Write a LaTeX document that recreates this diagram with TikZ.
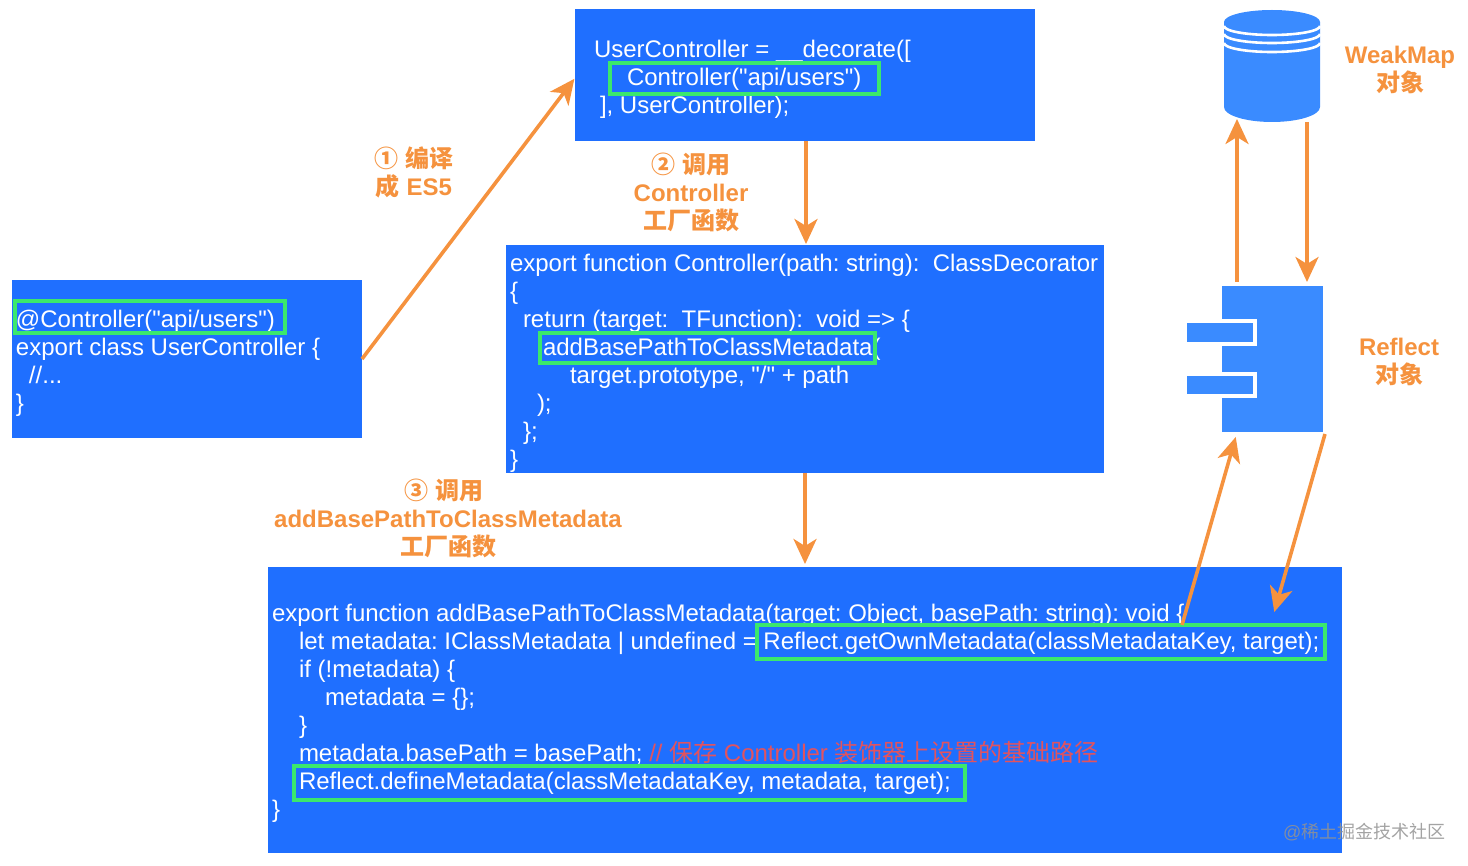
\documentclass[tikz,border=0pt]{standalone}
\usepackage{fontspec}
\setmainfont{Liberation Sans}
\newfontfamily\codefont{Liberation Sans}
\newfontfamily\cjk{Noto Sans CJK SC}
\usetikzlibrary{arrows.meta}
\definecolor{panelblue}{HTML}{1F6FFF}
\definecolor{shapeblue}{HTML}{3A8BFF}
\definecolor{hilite}{HTML}{3BE86C}
\definecolor{orangeline}{HTML}{F5923E}
\definecolor{redcomment}{HTML}{E2535F}
\newcommand{\zh}[1]{{\cjk #1}}
\newcommand{\zhb}[1]{{\cjk\bfseries #1}}
\newcommand{\ind}[1]{\hspace*{#1pt}}
\tikzset{
  x=1pt,y=-1pt,
  panel/.style={fill=panelblue,draw=none,inner sep=0pt,outer sep=0pt,anchor=north west},
  code/.style={text=white,inner sep=0pt,outer sep=0pt,anchor=north west,align=left,font=\fontsize{24}{28}\selectfont\codefont\frenchspacing},
  hibox/.style={draw=hilite,line width=3.4pt,fill=none,inner sep=0pt,outer sep=0pt,anchor=north west},
  label/.style={text=orangeline,inner sep=0pt,align=center,font=\fontsize{24}{28}\selectfont\bfseries},
  flow/.style={draw=orangeline,line width=3.6pt,-{Stealth[length=25pt,width=23pt,inset=7pt]},shorten >=1pt},
  shapefill/.style={fill=shapeblue,draw=none,inner sep=0pt,outer sep=0pt,anchor=north west},
}
\begin{document}
\begin{tikzpicture}
\useasboundingbox (0,0) rectangle (1468,866);
% panels
\node[panel,minimum width=350pt,minimum height=158pt] (left) at (12,280) {};
\node[panel,minimum width=460pt,minimum height=132pt] (top) at (575,9) {};
\node[panel,minimum width=598pt,minimum height=228pt] (mid) at (506,245) {};
\node[panel,minimum width=1074pt,minimum height=286pt] (bot) at (268,567) {};
% code
\node[code] (leftcode) at (16,308.4) {\strut @Controller("api/users")\\export class UserController \{\\\ind{13}//...\\\}};
\node[code] (topcode) at (594,38.4) {\strut UserController = \_\_decorate([\\\ind{33}Controller("api/users")\\\ind{6}], UserController);};
\node[code] (midcode) at (510,252.4) {\strut export function Controller(path: string):\ \ ClassDecorator\\\{\\\ind{13}return (target:\ \ TFunction):\ \ void => \{\\\ind{33}addBasePathToClassMetadata(\\\ind{60}target.prototype, "/" + path\\\ind{27});\\\ind{13}\};\\\}};
\node[code] (botcode) at (272,601.4) {\strut export function addBasePathToClassMetadata(target: Object, basePath: string): void \{\\\ind{27}let metadata: IClassMetadata | undefined = Reflect.getOwnMetadata(classMetadataKey, target);\\\ind{27}if (!metadata) \{\\\ind{53}metadata = \{\};\\\ind{27}\}\\\ind{27}metadata.basePath = basePath; \textcolor{redcomment}{// \zh{保存} Controller \zh{装饰器上设置的基础路径}}\\\ind{27}Reflect.defineMetadata(classMetadataKey, metadata, target);\\\}};
% highlights
\node[hibox,minimum width=270pt,minimum height=32pt] (hi1) at (15,301) {};
\node[hibox,minimum width=269pt,minimum height=31pt] (hi2) at (610,63) {};
\node[hibox,minimum width=335pt,minimum height=30pt] (hi3) at (540,333) {};
\node[hibox,minimum width=568pt,minimum height=34pt] (hi4) at (757,625) {};
\node[hibox,minimum width=671pt,minimum height=34pt] (hi5) at (294,766) {};
% WeakMap cylinder
\fill[shapeblue] (1272,22) ellipse[x radius=48,y radius=12];
\fill[shapeblue] (1224,22) -- (1224,107) arc[start angle=180,end angle=360,x radius=48,y radius=-15] -- (1320,22) -- cycle;
\foreach \yy in {26,34,43}{
  \draw[white,line width=2.6pt] (1224,\yy) arc[start angle=180,end angle=360,x radius=48,y radius=-9];
}
\coordinate (cylL) at (1237,118);
\coordinate (cylR) at (1307,122);
% Reflect component
\node[shapefill,minimum width=101pt,minimum height=146pt] (reflect) at (1222,286) {};
\fill[white] (1222,319) rectangle (1257,346);
\fill[white] (1222,372) rectangle (1257,398);
\node[shapefill,minimum width=66pt,minimum height=19pt] (tabA) at (1187,323) {};
\node[shapefill,minimum width=66pt,minimum height=18pt] (tabB) at (1187,376) {};
\coordinate (refL) at (1237,282);
\coordinate (refR) at (1307,283);
\coordinate (refBL) at (1236,436);
\coordinate (refBR) at (1325,434);
\coordinate (hiL) at (1182,625);
\coordinate (hiR) at (1274,613);
% connectors
\draw[flow] (left.east) -- ([yshift=-3pt]top.west);
\draw[flow] ([xshift=1pt]top.south) -- ([xshift=1pt]mid.north);
\draw[flow,shorten >=3pt] (mid.south) -- (bot.north);
\draw[flow] (refL) -- (cylL);
\draw[flow] (cylR) -- (refR);
\draw[flow] (hiL) -- (refBL);
\draw[flow] (refBR) -- (hiR);
% labels
\node[label] (l1) at (414,172) {\zh{①} \zhb{编译}\\\zhb{成} ES5};
\node[label] (l2) at (691,192) {\zh{②} \zhb{调用}\\Controller\\\zhb{工厂函数}};
\node[label] (l3) at (444,518) {\zh{③} \zhb{调用}\\\hspace*{8pt}addBasePathToClassMetadata\\\hspace*{8pt}\zhb{工厂函数}};
\node[label] (l4) at (1400,70) {WeakMap\\\zhb{对象}};
\node[label] (l5) at (1399,362) {Reflect\\\zhb{对象}};
\node[inner sep=0pt,text=gray!85,opacity=.85,anchor=west,font=\fontsize{18}{20}\selectfont] (wm) at (1283,832) {@\zh{稀土掘金技术社区}};
\end{tikzpicture}
\end{document}
